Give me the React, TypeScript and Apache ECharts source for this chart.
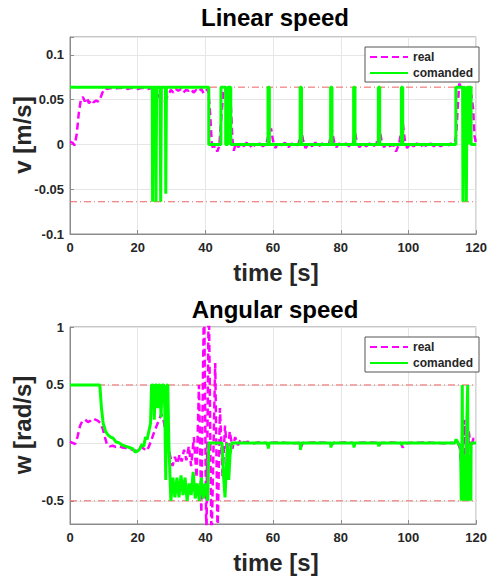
import React, { useEffect, useRef } from "react";
import * as echarts from "echarts";

// ---------- data ----------
const xTicks = [0, 20, 40, 60, 80, 100, 120];
const vLimit = 0.064;
const wLimit = 0.5;

const vReal: number[][] = [
  [0, 0.003], [0.7, 0.002], [1.4, -0.001], [2.0, 0.012], [2.6, 0.035], [3.2, 0.05], [3.8, 0.053], [4.4, 0.048],
  [5.0, 0.052], [5.6, 0.046], [6.3, 0.05], [7.0, 0.047], [7.7, 0.049], [8.4, 0.048], [9.0, 0.052], [9.6, 0.058],
  [10.3, 0.063], [11, 0.062], [12, 0.063], [13, 0.062], [14, 0.063], [15, 0.063], [16, 0.064], [17, 0.062],
  [18, 0.063], [19, 0.063], [20, 0.062], [21, 0.063], [22, 0.063], [23, 0.062], [24, 0.063], [25, 0.058],
  [26, 0.055], [27, 0.05], [28, 0.048], [29, 0.055], [29.8, 0.061], [30.5, 0.058], [31.2, 0.062], [32, 0.06],
  [32.8, 0.062], [33.5, 0.058], [34.3, 0.061], [35, 0.06], [35.8, 0.062], [36.5, 0.058], [37.3, 0.061], [38, 0.059],
  [38.8, 0.062], [39.5, 0.057], [40.2, 0.06], [40.8, 0.062], [41.4, 0.035], [41.9, 0.0], [42.4, -0.006], [42.9, 0.001],
  [43.5, -0.008], [44.1, -0.002], [44.7, 0.03], [45.3, 0.058], [45.9, 0.063], [46.4, 0.052], [46.9, 0.06], [47.5, 0.045],
  [48.0, 0.005], [48.4, -0.007], [49, 0.002], [49.7, -0.003], [50.5, 0.001], [51.3, -0.002], [52.2, 0.002], [53, -0.003],
  [54, 0.0], [55, -0.002], [56, 0.001], [57, -0.002], [58, 0.001], [58.8, 0.012], [59.4, 0.018], [60, 0.004],
  [60.7, -0.004], [61.5, 0.002], [62.5, -0.001], [63.5, 0.002], [64.5, -0.003], [65.5, 0.001], [66.5, -0.002], [67.5, 0.0],
  [68.3, 0.016], [68.9, 0.004], [69.6, -0.004], [70.5, 0.001], [71.5, -0.002], [72.5, 0.002], [73.5, -0.002], [74.5, 0.001],
  [75.5, -0.002], [76.5, 0.0], [77.4, 0.016], [78, 0.003], [78.7, -0.003], [79.5, 0.001], [80.5, -0.001], [81.5, 0.001],
  [82.5, -0.002], [83.5, 0.0], [84.2, 0.013], [84.8, 0.002], [85.5, -0.003], [86.5, 0.001], [87.5, -0.002], [88.5, 0.001],
  [89.5, -0.002], [90.5, 0.0], [91.5, 0.016], [92.1, 0.003], [92.8, -0.003], [93.5, 0.001], [94.5, -0.002], [95.5, 0.0],
  [96.3, -0.008], [97.2, 0.0], [98.3, 0.025], [98.9, 0.005], [99.6, -0.004], [100.5, 0.001], [101.5, -0.002], [102.5, 0.001],
  [103.5, -0.002], [104.5, 0.0], [105.5, -0.002], [106.5, 0.001], [107.5, -0.002], [108.5, 0.001], [109.5, -0.002], [110.5, 0.0],
  [111.5, -0.002], [112.5, 0.001], [113.5, -0.001], [114.1, 0.01], [114.6, 0.045], [115.0, 0.068], [115.6, 0.063], [116.4, 0.058],
  [117.2, 0.062], [118.0, 0.058], [118.6, 0.055], [119.1, 0.04], [119.5, 0.01], [120, 0.0],
];

const vCmd: number[][] = [
  [0, 0.064], [24.3, 0.064], [24.4, -0.064], [24.6, 0.064], [25.3, 0.064], [25.4, -0.064], [25.6, 0.064],
  [26.6, 0.064], [26.8, -0.064], [27.0, 0.064], [28.2, 0.064], [28.3, -0.055], [28.5, 0.064],
  [41.0, 0.064], [41.0, 0], [44.6, 0], [44.6, 0.064], [46.0, 0.064], [46.0, 0], [46.6, 0], [46.6, 0.064],
  [47.5, 0.064], [47.5, 0], [58.5, 0], [58.5, 0.064], [58.9, 0.064], [58.9, 0], [68.0, 0], [68.0, 0.064],
  [68.4, 0.064], [68.4, 0], [77.0, 0], [77.0, 0.064], [77.4, 0.064], [77.4, 0], [83.8, 0], [83.8, 0.064],
  [84.2, 0.064], [84.2, 0], [91.1, 0], [91.1, 0.064], [91.5, 0.064], [91.5, 0], [97.9, 0], [97.9, 0.064],
  [98.3, 0.064], [98.3, 0], [114.0, 0], [114.0, 0.064], [116.0, 0.064], [116.1, -0.064], [116.3, 0.064],
  [116.6, 0.064], [116.7, 0.0], [116.8, 0.064], [117.0, 0.064], [117.1, -0.064], [117.3, 0.064], [117.8, 0.064],
  [117.9, 0.0], [118.0, 0.064], [118.5, 0.064], [118.5, 0], [120, 0],
];

const wReal: number[][] = [
  [0, 0.01], [0.8, 0.0], [1.5, -0.01], [2.2, 0.05], [3, 0.15], [3.7, 0.19], [4.5, 0.2], [5.3, 0.18], [6, 0.19],
  [6.8, 0.21], [7.5, 0.2], [8.3, 0.19], [9, 0.17], [9.7, 0.12], [10.3, 0.05], [11, -0.02], [11.8, -0.03],
  [12.6, -0.025], [13.5, -0.035], [14.5, -0.03], [15.5, -0.04], [16.5, -0.045], [17.5, -0.05], [18.5, -0.06],
  [19.5, -0.07], [20.3, -0.05], [21, -0.03], [21.8, -0.05], [22.5, -0.07], [23.2, -0.04], [24, 0.02], [24.7, 0.08],
  [25.5, 0.14], [26.3, 0.2], [27, 0.25], [27.6, 0.2], [28.2, 0.1], [28.8, 0.0], [29.5, -0.1], [30.3, -0.2],
  [31, -0.12], [31.7, -0.18], [32.4, -0.1], [33, -0.16], [33.7, -0.06], [34.4, -0.15], [35.1, -0.03], [35.8, -0.2],
  [36.6, 0.05], [37.4, -0.3], [38.1, 0.5], [38.8, -0.6], [39.6, 1.3], [40.3, -0.9], [41.0, 1.3], [41.8, -0.9],
  [42.9, 0.69], [43.6, -0.8], [44.3, 0.3], [45.1, -0.3], [45.8, 0.15], [46.5, -0.12], [47.2, 0.1], [48, -0.05],
  [48.8, 0.05], [49.6, -0.02], [50.5, 0.03], [51.5, 0.0], [52.5, 0.01], [54, -0.005], [56, 0.005], [58, 0.0],
  [58.7, -0.03], [59.3, 0.0], [62, 0.005], [65, -0.003], [67.8, 0.0], [68.2, -0.04], [68.8, 0.0], [72, 0.004],
  [76.8, 0.0], [77.3, -0.02], [77.9, 0.0], [81, 0.003], [83.7, 0.0], [84.1, -0.02], [84.7, 0.0], [88, 0.004],
  [91, 0.0], [91.4, -0.02], [92, 0.0], [95, 0.004], [97.8, 0.0], [98.3, -0.04], [99, -0.01], [100, 0.0],
  [105, 0.004], [110, -0.003], [113.8, 0.0], [114.5, 0.02], [115.2, -0.05], [115.8, -0.3], [116.5, 0.2],
  [117.2, -0.4], [117.8, 0.1], [118.5, -0.05], [119.2, 0.04], [120, 0.02],
];

const wCmd: number[][] = [
  [0, 0.5], [8.8, 0.5], [9.3, 0.3], [9.8, 0.17], [10.5, 0.1], [11.2, 0.07], [12, 0.05], [12.8, 0.04], [13.5, 0.01],
  [14.5, 0.0], [15.5, -0.02], [16.5, -0.03], [17.5, -0.04], [18.5, -0.05], [19.3, -0.08], [20, -0.07], [20.7, -0.05],
  [21.3, -0.01], [21.8, -0.03], [22.3, 0.05], [22.8, 0.03], [23.3, 0.1], [23.8, 0.17], [24.1, 0.5], [24.6, 0.5],
  [24.9, 0.2], [25.2, 0.5], [25.6, 0.5], [25.9, 0.3], [26.2, 0.5], [26.6, 0.5], [26.9, 0.22], [27.2, 0.5],
  [27.7, 0.5], [28.0, 0.3], [28.3, -0.32], [28.6, 0.5], [28.9, 0.5], [29.2, 0.0], [29.8, -0.5], [30.4, -0.3],
  [31, -0.47], [31.6, -0.3], [32.2, -0.47], [32.8, -0.28], [33.4, -0.45], [34, -0.3], [34.6, -0.5], [35.2, -0.35],
  [35.8, -0.45], [36.4, -0.25], [37, -0.48], [37.6, -0.35], [38.2, -0.5], [38.8, -0.3], [39.4, -0.48], [40.0, -0.35],
  [40.7, -0.5], [41.0, 0], [44.9, 0], [45.4, -0.3], [45.8, -0.47], [46.2, -0.2], [46.5, 0], [46.9, -0.32],
  [47.3, -0.1], [47.8, 0], [58.4, 0], [58.6, -0.05], [58.8, 0], [68, 0], [68.1, -0.06], [68.3, 0], [77, 0],
  [77.1, -0.04], [77.3, 0], [83.8, 0], [83.9, -0.04], [84.1, 0], [91.1, 0], [91.2, -0.03], [91.4, 0], [97.9, 0],
  [98.0, -0.02], [98.2, 0], [113.7, 0], [114.1, 0.03], [114.5, 0.01], [114.9, -0.02], [115.4, -0.02], [115.6, -0.5],
  [115.8, -0.1], [115.9, 0.5], [116.0, -0.5], [116.15, -0.1], [116.3, -0.5], [116.45, -0.15], [116.6, -0.5],
  [116.75, -0.1], [116.9, -0.5], [117.05, -0.05], [117.5, 0.5], [117.6, -0.5], [117.75, -0.15], [117.9, -0.5],
  [118.05, -0.1], [118.2, -0.5], [118.35, -0.2], [118.45, -0.5], [118.5, 0], [120, 0],
];

// ---------- styles ----------
const FONT = "Liberation Sans, Arial, sans-serif";
const AXIS_COLOR = "#8c8c8c";
const TEXT_COLOR = "#262626";
const GRID_COLOR = "#e6e6e6";
const LIMIT_COLOR = "#f06060";
const REAL_COLOR = "#ff00ff";
const CMD_COLOR = "#00ff00";

const fmtStep = (step: number) => (v: number) => {
  const k = v / step;
  if (Math.abs(k - Math.round(k)) > 1e-6) return "";
  return String(parseFloat(v.toFixed(3)));
};

function xAxisCfg(gridIndex: number) {
  return {
    type: "value",
    gridIndex,
    min: xTicks[0],
    max: xTicks[xTicks.length - 1],
    interval: xTicks[1] - xTicks[0],
    axisLine: { show: true, onZero: false, lineStyle: { color: AXIS_COLOR } },
    axisTick: { show: true, inside: true, length: 4, lineStyle: { color: AXIS_COLOR } },
    splitLine: { show: true, lineStyle: { color: GRID_COLOR, width: 1 } },
    axisLabel: { color: TEXT_COLOR, fontWeight: "bold", fontSize: 13, fontFamily: FONT, margin: 7 },
  };
}

function yAxisCfg(gridIndex: number, min: number, max: number, step: number) {
  return {
    type: "value",
    gridIndex,
    min,
    max,
    minInterval: step,
    maxInterval: step,
    axisLine: { show: true, onZero: false, lineStyle: { color: AXIS_COLOR } },
    axisTick: { show: true, inside: true, length: 4, lineStyle: { color: AXIS_COLOR } },
    splitLine: { show: true, lineStyle: { color: GRID_COLOR, width: 1 } },
    axisLabel: {
      color: TEXT_COLOR,
      fontWeight: "bold",
      fontSize: 13,
      fontFamily: FONT,
      margin: 6,
      formatter: fmtStep(step),
    },
  };
}

function limitSeries(idx: number, value: number) {
  return {
    type: "line",
    name: "limit",
    xAxisIndex: idx,
    yAxisIndex: idx,
    data: [
      [xTicks[0], value],
      [xTicks[xTicks.length - 1], value],
    ],
    symbol: "none",
    silent: true,
    z: 1,
    lineStyle: { color: LIMIT_COLOR, width: 1, type: [7, 3, 1, 3] },
  };
}

function dataSeries(idx: number, name: string, data: number[][], real: boolean) {
  return {
    type: "line",
    name,
    xAxisIndex: idx,
    yAxisIndex: idx,
    data,
    symbol: "none",
    clip: true,
    z: real ? 2 : 3,
    lineStyle: real
      ? { color: REAL_COLOR, width: 2.5, type: [7, 4] }
      : { color: CMD_COLOR, width: 3, type: "solid" },
    itemStyle: { color: real ? REAL_COLOR : CMD_COLOR },
  };
}

function legendCfg(top: number) {
  return {
    data: ["real", "comanded"],
    orient: "vertical",
    left: 365,
    top,
    itemWidth: 38,
    itemHeight: 10,
    itemGap: 4,
    padding: [4, 6, 3, 4],
    backgroundColor: "#fff",
    borderColor: "#555",
    borderWidth: 1,
    borderRadius: 0,
    selectedMode: false,
    itemStyle: { opacity: 0 },
    textStyle: { color: TEXT_COLOR, fontSize: 12, fontWeight: "bold", fontFamily: FONT },
  };
}

function bigText(text: string, x: number, y: number, color: string, rotate = 0) {
  return {
    type: "text",
    x,
    y,
    rotation: rotate,
    style: {
      text,
      fill: color,
      font: `bold 24px ${FONT}`,
      textAlign: "center",
      textVerticalAlign: "middle",
    },
    z: 10,
  };
}

export default function App() {
  const ref = useRef<HTMLDivElement>(null);
  useEffect(() => {
    if (!ref.current) return;
    const chart = echarts.init(ref.current, undefined, { renderer: "svg" });
    chart.setOption({
      animation: false,
      backgroundColor: "#fff",
      grid: [
        { left: 70, top: 37, width: 410, height: 197, show: true, borderColor: AXIS_COLOR, borderWidth: 1, backgroundColor: "#fff" },
        { left: 70, top: 327, width: 410, height: 197, show: true, borderColor: AXIS_COLOR, borderWidth: 1, backgroundColor: "#fff" },
      ],
      xAxis: [xAxisCfg(0), xAxisCfg(1)],
      yAxis: [yAxisCfg(0, -0.1, 0.12, 0.05), yAxisCfg(1, -0.7, 1, 0.5)],
      legend: [legendCfg(47), legendCfg(337)],
      series: [
        limitSeries(0, vLimit),
        limitSeries(0, -vLimit),
        dataSeries(0, "real", vReal, true),
        dataSeries(0, "comanded", vCmd, false),
        limitSeries(1, wLimit),
        limitSeries(1, -wLimit),
        dataSeries(1, "real", wReal, true),
        dataSeries(1, "comanded", wCmd, false),
      ],
      graphic: [
        bigText("Linear speed", 275, 17, "#000"),
        bigText("time [s]", 276, 272, TEXT_COLOR),
        bigText("v [m/s]", 22, 135, TEXT_COLOR, Math.PI / 2),
        bigText("Angular speed", 275, 309, "#000"),
        bigText("time [s]", 276, 562, TEXT_COLOR),
        bigText("w [rad/s]", 22, 425, TEXT_COLOR, Math.PI / 2),
      ],
    });
    return () => chart.dispose();
  }, []);
  return (
    <div
      ref={ref}
      style={{ position: "fixed", left: 0, top: 0, width: 490, height: 580, background: "#fff" }}
    />
  );
}
